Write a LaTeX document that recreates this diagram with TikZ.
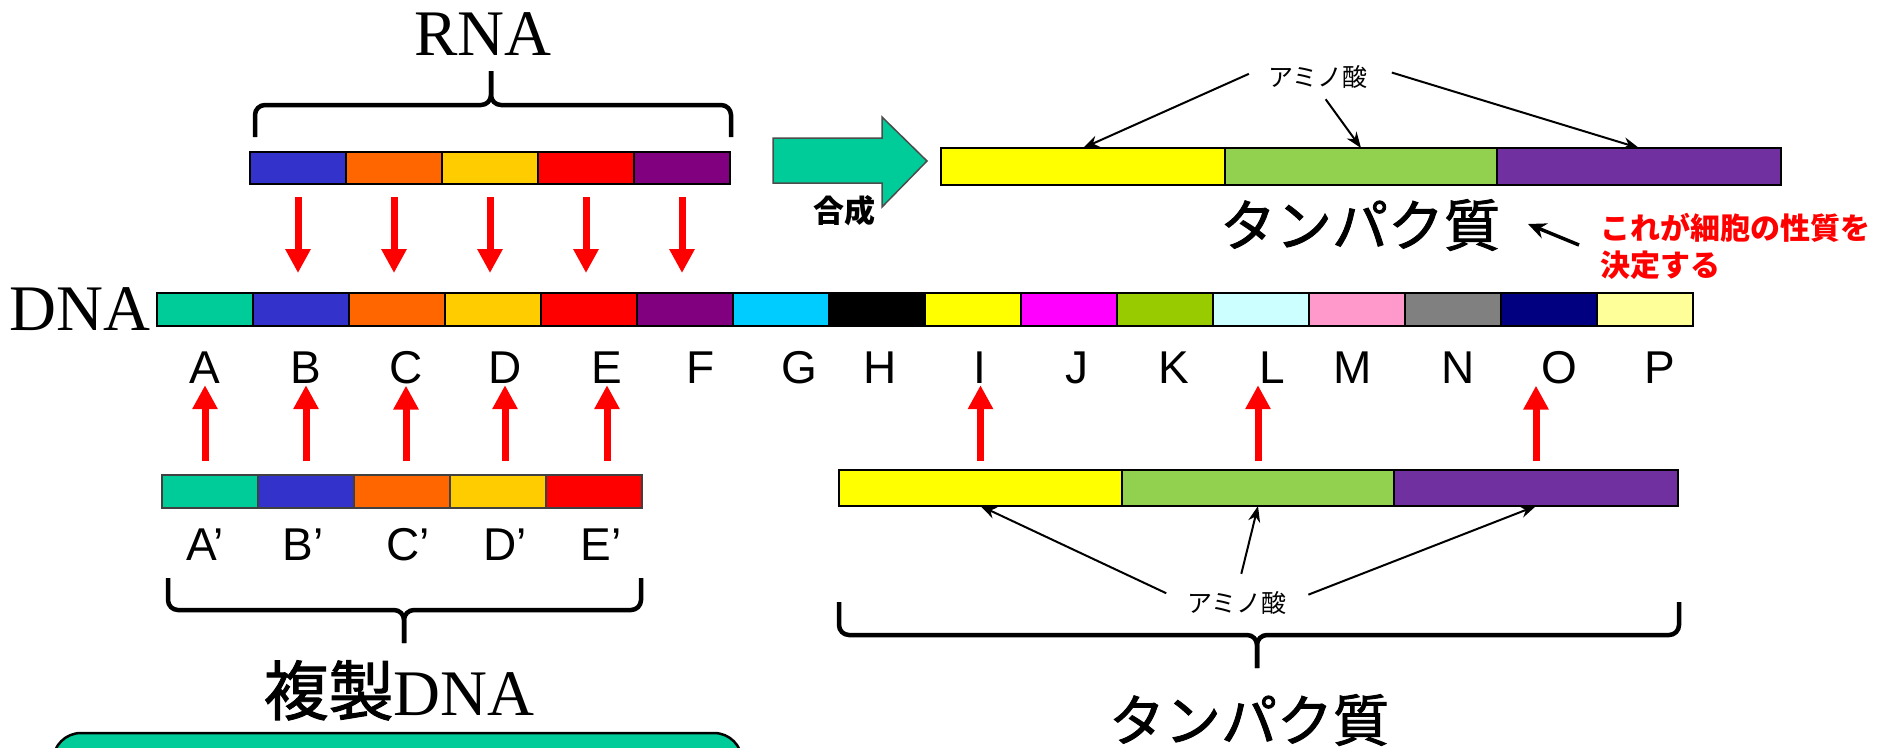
\documentclass[tikz,border=0pt]{standalone}
\usepackage{fontspec}
\setmainfont{Liberation Serif}
\newfontfamily\sansf{Liberation Sans}
\newfontfamily\jpf{Noto Sans CJK JP}
\newfontfamily\jpmed[FakeBold=1.5]{Noto Sans CJK JP}
\usetikzlibrary{arrows.meta}
\definecolor{cA}{HTML}{00CC99}
\definecolor{cB}{HTML}{3333CC}
\definecolor{cC}{HTML}{FF6600}
\definecolor{cD}{HTML}{FFCC00}
\definecolor{cE}{HTML}{FF0000}
\definecolor{cF}{HTML}{800080}
\definecolor{cG}{HTML}{00CCFF}
\definecolor{cH}{HTML}{000000}
\definecolor{cI}{HTML}{FFFF00}
\definecolor{cJ}{HTML}{FF00FF}
\definecolor{cK}{HTML}{99CC00}
\definecolor{cL}{HTML}{CCFFFF}
\definecolor{cM}{HTML}{FF99CC}
\definecolor{cN}{HTML}{808080}
\definecolor{cO}{HTML}{000080}
\definecolor{cP}{HTML}{FFFF99}
\definecolor{pgreen}{HTML}{92D050}
\definecolor{ppurple}{HTML}{7030A0}
\definecolor{pyellow}{HTML}{FFFF00}
\tikzset{
  seg/.style={draw=black, line width=2.5pt, inner sep=0pt, outer sep=0pt, anchor=north west},
  letter/.style={font=\sansf\fontsize{46}{46}\selectfont, anchor=base, inner sep=0pt},
  bigserif/.style={font=\fontsize{65}{65}\selectfont, anchor=base, inner sep=0pt},
  redarr/.style={draw=red, line width=7pt, -{Triangle[length=24pt,width=24pt]}},
  blackarr/.style={draw=black, line width=2pt, -{Stealth[length=16pt,width=12pt]}},
  bracepath/.style={draw=black, line width=4.5pt, rounded corners=10pt},
  amino/.style={font=\jpf\fontsize{25}{25}\selectfont, inner sep=0pt},
  protlabel/.style={font=\jpmed\fontsize{56}{56}\selectfont, inner sep=0pt}
}
\begin{document}
\begin{tikzpicture}[x=1pt,y=-1pt]
\useasboundingbox (0,0) rectangle (1879,747);
\clip (0,0) rectangle (1879,747);

% DNA bar
\foreach \c [count=\i] in {cA,cB,cC,cD,cE,cF,cG,cH,cI,cJ,cK,cL,cM,cN,cO,cP}
  \node[seg, minimum width=96pt, minimum height=33pt, fill=\c] (d\i) at ({157+96*(\i-1)},293) {};
\node[bigserif] (dna) at (80,330) {DNA};

% letters
\foreach \l/\x in {A/205,B/306,C/406,D/505,E/607,F/701,G/799,H/880,I/980,J/1077,K/1174,L/1272,M/1353,N/1458,O/1559,P/1660}
  \node[letter] (l\l) at (\x,383) {\l};

% RNA bar
\foreach \c [count=\i] in {cB,cC,cD,cE,cF}
  \node[seg, minimum width=96pt, minimum height=32pt, fill=\c] (r\i) at ({250+96*(\i-1)},152) {};
\node[bigserif] (rna) at (483,55) {RNA};
\draw[bracepath] (255,137) -- (255,105) -- (491,105) -- (491,71);
\draw[bracepath] (731,137) -- (731,105) -- (491,105) -- (491,71);

\foreach \i in {1,...,5}
  \draw[redarr, shorten <=13pt, shorten >=20pt] (r\i.south) -- (r\i.south |- d1.north);

% replica DNA
\foreach \c [count=\i] in {cA,cB,cC,cD,cE}
  \node[seg, draw=gray!50!black, minimum width=96pt, minimum height=33pt, fill=\c] (p\i) at ({162+96*(\i-1)},475) {};
\foreach \l/\x in {A/205,B/303,C/408,D/505,E/601}
  \node[letter] (p\l) at (\x,560) {\l’};
\foreach \i/\l in {1/A,2/B,3/C,4/D,5/E}
  \draw[redarr, shorten <=14pt, shorten >=2pt] (l\l.south |- p\i.north) -- (l\l.south);
\draw[bracepath] (168,578) -- (168,610) -- (404,610) -- (404,643);
\draw[bracepath] (641,578) -- (641,610) -- (404,610) -- (404,643);
\node[bigserif] (fukusei) at (399,715) {{\jpmed 複製}DNA};
\draw[draw=black, line width=2.5pt, fill=cA, rounded corners=28pt] (53,733) rectangle (742,800);

% synthesis arrow
\draw[fill=cA, draw=gray!60!black, line width=1.5pt]
  (773,138) -- (882,138) -- (882,117) -- (927,161) -- (882,207) -- (882,183) -- (773,183) -- cycle;
\node[font=\jpf\bfseries\fontsize{31}{31}\selectfont, inner sep=0pt] (gousei) at (844,211) {合成};

% top protein
\node[seg, minimum width=284pt, minimum height=37pt, fill=pyellow] (t1) at (941,148) {};
\node[seg, minimum width=272pt, minimum height=37pt, fill=pgreen] (t2) at (1225,148) {};
\node[seg, minimum width=284pt, minimum height=37pt, fill=ppurple] (t3) at (1497,148) {};
\node[amino] (am1) at (1318,77) {アミノ酸};
\draw[blackarr, shorten <=21pt] (am1.north west) -- (t1.north);
\draw[blackarr, shorten <=13pt] (am1.south) -- (t2.north);
\draw[blackarr, shorten <=25pt] (am1.north east) -- (t3.north);
\node[protlabel] (tp1) at (1360,225) {タンパク質};
\node[anchor=west, font=\jpf\bfseries\fontsize{30}{30}\selectfont, text=red, inner sep=0pt] (rt1) at (1600,228) {これが細胞の性質を};
\node[anchor=west, font=\jpf\bfseries\fontsize{30}{30}\selectfont, text=red, inner sep=0pt] (rt2) at (1600,265) {決定する};
\coordinate (ktail) at (1579,245);
\coordinate (khead) at (1528,224);
\draw[line width=3.5pt, -{Stealth[length=18pt,width=16pt]}] (ktail) -- (khead);

% bottom protein
\node[seg, minimum width=283pt, minimum height=36pt, fill=pyellow] (q1) at (839,470) {};
\node[seg, minimum width=272pt, minimum height=36pt, fill=pgreen] (q2) at (1122,470) {};
\node[seg, minimum width=284pt, minimum height=36pt, fill=ppurple] (q3) at (1394,470) {};
\foreach \i/\l in {1/I,2/L,3/O}
  \draw[redarr, shorten <=9pt, shorten >=2pt] (q\i.north) -- (q\i.north |- l\l.south);
\node[amino] (am2) at (1237,603) {アミノ酸};
\draw[blackarr, shorten <=23pt] (am2.west) -- (q1.south);
\draw[blackarr, shorten <=18pt] (am2.north) -- (q2.south);
\draw[blackarr, shorten <=23pt] (am2.east) -- (q3.south);
\draw[bracepath] (839,602) -- (839,635) -- (1257,635) -- (1257,668);
\draw[bracepath] (1679,602) -- (1679,635) -- (1257,635) -- (1257,668);
\node[protlabel] (tp2) at (1249,720) {タンパク質};
\end{tikzpicture}
\end{document}
